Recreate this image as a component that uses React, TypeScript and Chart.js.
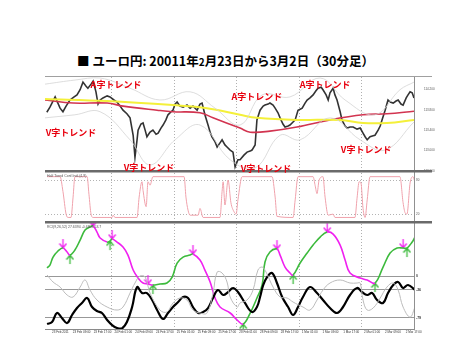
import { useEffect, useRef } from "react";
import { Chart, registerables } from "chart.js";

Chart.register(...registerables);

// ---- text ----
const TITLE_A = "■ ユーロ円: 20011年";
const TITLE_SMALL = "2";
const TITLE_B = "月23日から3月2日（30分足）";
const HT_LABEL = "Half Trend Conf.Indi.(4,9)";
const RCI_LABEL = "RCI(9,26,52) 27.6394 -0.6805 53.7";

// ---- x axis (hours since first bar) ----
const timeTickLabels = [
  "23 Feb 2011", "23 Feb 09:00", "23 Feb 17:00",
  "24 Feb 01:00", "24 Feb 09:00", "24 Feb 17:00",
  "25 Feb 01:00", "25 Feb 09:00", "25 Feb 17:00",
  "28 Feb 01:00", "28 Feb 09:00", "28 Feb 17:00",
  "1 Mar 01:00", "1 Mar 09:00", "1 Mar 17:00",
  "2 Mar 01:00", "2 Mar 09:00", "2 Mar 17:00",
];
const timeTickHours = [0, 8, 16, 24, 32, 40, 48, 56, 64, 72, 80, 88, 96, 104, 112, 120, 128, 136];
const dayBreakHours = [23, 47, 71, 95, 119];

// ---- main price pane ----
const priceTicks = [112.6, 112.8, 113.0, 113.2, 113.4, 113.6, 113.8, 114.0, 114.2, 114.4];
const priceHours = [-2, -0.8, 1.2, 3.1, 4.2, 5.4, 6.9, 8.5, 9.6, 10.8, 11.9, 13.1, 13.8, 15.0, 15.8, 16.9, 17.7, 18.5, 19.6, 21.2, 22.3, 23.8, 25.0, 26.2, 27.3, 28.8, 30.0, 31.2, 31.9, 32.7, 33.1, 34.2, 35.0, 35.8, 36.5, 37.7, 38.8, 40.0, 40.8, 41.9, 42.7, 43.8, 44.6, 45.8, 46.5, 47.3, 48.1, 49.2, 50.4, 51.9, 53.1, 54.2, 55.8, 56.9, 57.7, 58.8, 60.0, 60.8, 61.5, 62.7, 63.5, 64.6, 65.4, 66.5, 67.3, 68.5, 69.6, 70.4, 71.5, 72.3, 73.8, 75.0, 76.2, 76.9, 78.1, 78.8, 80.0, 81.2, 81.9, 83.1, 83.8, 85.0, 85.8, 86.9, 87.7, 88.8, 89.6, 90.8, 91.5, 92.7, 93.5, 94.6, 95.4, 96.2, 97.3, 98.1, 99.2, 100.4, 101.5, 102.3, 103.5, 104.2, 105.4, 106.2, 106.9, 108.1, 108.8, 109.6, 110.8, 111.5, 112.7, 113.5, 114.6, 115.8, 117.3, 118.5, 119.6, 120.4, 121.2, 122.3, 123.5, 124.2, 125.4, 126.2, 126.9, 128.1, 129.2, 130.0, 131.2, 132.3, 133.1, 134.2, 135.0, 136.2, 136.9, 137.7, 138.5, 139.2];
const priceClose = [113.75, 113.85, 114.05, 113.83, 113.76, 113.87, 113.99, 114.05, 114.09, 114.19, 114.34, 114.26, 114.22, 114.30, 114.36, 114.15, 113.91, 113.99, 114.03, 114.07, 114.05, 113.99, 113.95, 113.87, 113.79, 113.72, 113.64, 113.30, 112.87, 113.21, 113.40, 113.52, 113.54, 113.40, 113.27, 113.36, 113.40, 113.32, 113.34, 113.44, 113.50, 113.60, 113.70, 113.76, 113.79, 113.91, 113.95, 113.87, 113.85, 113.89, 113.83, 113.87, 113.79, 113.91, 113.93, 113.70, 113.50, 113.36, 113.27, 113.17, 113.07, 113.15, 113.21, 113.11, 113.07, 113.01, 112.97, 112.68, 112.82, 112.82, 112.91, 112.97, 112.99, 113.01, 113.11, 113.60, 113.79, 113.87, 113.89, 113.91, 113.93, 113.89, 113.83, 113.74, 113.64, 113.52, 113.46, 113.48, 113.50, 113.56, 113.60, 113.79, 113.81, 113.83, 113.93, 113.99, 114.03, 114.09, 114.17, 114.22, 114.24, 114.19, 114.09, 113.99, 114.13, 114.22, 114.09, 113.99, 113.76, 113.60, 113.48, 113.44, 113.46, 113.46, 113.42, 113.44, 113.34, 113.27, 113.21, 113.27, 113.29, 113.30, 113.40, 113.48, 113.60, 113.79, 113.99, 113.95, 113.93, 113.97, 113.99, 113.91, 113.89, 114.03, 114.09, 114.15, 114.13, 114.03];

const maYellowHours = [-2.7, 21.2, 46.5, 59.6, 72.3, 78.8, 94.2, 110.8, 119.6, 128.8, 139.2];
const maYellow = [114.01, 113.97, 113.89, 113.83, 113.70, 113.64, 113.60, 113.60, 113.54, 113.54, 113.60];
const maRedHours = [-2.7, 8.1, 21.2, 27.3, 40.4, 46.5, 56.9, 61.9, 72.3, 76.2, 83.8, 94.2, 106.9, 119.6, 128.8, 139.2];
const maRed = [113.99, 113.93, 113.93, 113.87, 113.79, 113.76, 113.74, 113.64, 113.44, 113.36, 113.38, 113.46, 113.60, 113.70, 113.72, 113.77];
const bandUpperHours = [-2.7, 8.8, 18.5, 30.0, 41.5, 53.1, 62.7, 72.3, 80.8, 91.5, 103.1, 112.7, 124.2, 133.8, 139.2];
const bandUpper = [114.30, 114.38, 114.42, 114.22, 113.99, 114.15, 113.83, 113.50, 114.09, 114.05, 114.42, 113.99, 113.70, 114.19, 114.34];
const bandLowerHours = [-2.7, 8.8, 18.5, 30.0, 37.7, 47.3, 56.9, 68.5, 78.1, 87.7, 95.4, 106.9, 118.5, 128.1, 139.2];
const bandLower = [113.64, 113.70, 113.76, 113.21, 112.72, 113.21, 113.50, 112.82, 112.66, 113.30, 113.21, 113.64, 113.21, 113.01, 113.56];

const trendLabels = ["A字トレンド", "V字トレンド", "V字トレンド", "A字トレンド", "A字トレンド", "V字トレンド", "V字トレンド"];
const trendLabelHours = [24.6, 7.3, 37.3, 78.8, 105.0, 82.3, 120.8];
const trendLabelPrices = [114.30, 113.36, 112.66, 114.05, 114.30, 112.64, 113.01];

// ---- half trend pane ----
const htLevels = [20, 80];
const htHours = [-1.9, 3.1, 4.2, 5.4, 6.2, 7.3, 8.1, 8.8, 13.5, 14.2, 15.0, 15.8, 23.1, 23.5, 24.2, 32.7, 33.5, 34.6, 35.0, 36.2, 36.9, 37.7, 38.8, 50.8, 51.5, 52.3, 53.1, 56.2, 56.9, 58.1, 64.6, 65.4, 65.8, 66.5, 67.7, 68.8, 70.0, 70.8, 71.5, 73.1, 84.6, 85.8, 86.5, 92.7, 93.5, 94.6, 100.4, 101.2, 101.9, 102.7, 104.2, 105.0, 106.2, 108.1, 108.8, 116.5, 117.3, 118.1, 118.8, 119.6, 120.4, 121.2, 122.3, 133.8, 135.0, 135.8, 136.5, 137.7, 138.8, 139.6];
const htValues = [86, 86, 60, 20, 14, 14, 50, 86, 86, 55, 20, 14, 14, 18, 14, 14, 50, 77, 62, 33, 77, 71, 86, 86, 50, 27, 18, 18, 30, 14, 14, 60, 77, 36, 80, 40, 24, 20, 45, 86, 86, 50, 16, 14, 45, 86, 86, 70, 56, 80, 86, 50, 18, 20, 14, 14, 48, 77, 75, 30, 14, 45, 86, 86, 40, 22, 20, 75, 86, 75];

// ---- RCI / oscillator pane ----
const rciLevels = [-79, -26, 0];
const rciHours = [-1.9, -0.8, 0.4, 2.3, 4.2, 5.8, 6.9, 8.8, 10.8, 12.7, 14.6, 15.8, 17.3, 18.5, 21.2, 22.3, 23.1, 25.0, 27.3, 29.2, 31.2, 33.1, 35.0, 36.9, 38.8, 41.5, 44.2, 46.2, 48.1, 50.4, 53.1, 54.2, 56.9, 58.8, 60.8, 62.7, 64.6, 68.5, 71.2, 73.5, 76.2, 78.8, 80.8, 81.9, 83.8, 86.5, 87.7, 89.6, 91.5, 92.7, 95.4, 98.1, 100.4, 103.1, 105.8, 108.1, 110.8, 112.7, 114.6, 118.5, 121.2, 124.2, 127.3, 130.0, 132.7, 135.0, 136.5, 138.5, 139.6];
const rciValues = [15.1, 20.8, 35.8, 47.2, 52.8, 45.3, 39.6, 49.1, 67.9, 86.8, 92.5, 94.3, 83, 71.7, 64.2, 66, 69.8, 64.2, 54.7, 39.6, 11.3, -3.8, -13.2, -15.1, -17, -15.1, -13.2, -1.9, 24.5, 35.8, 39.6, 41.5, 30.2, 11.3, -11.3, -41.5, -58.5, -69.8, -83, -90.6, -69.8, -41.5, -17, 26.4, 45.3, 50.9, 39.6, 17, 5.7, 1.9, 24.5, 43.4, 58.5, 73.6, 83, 79.2, 58.5, 30.2, 5.7, -3.8, -7.5, -13.2, 17, 43.4, 52.8, 52.8, 52.8, 64.2, 73.6];
const sellArrowHours = [4.2, 15.8, 23.1, 36.9, 54.2, 86.5, 105.8, 135.0];
const sellArrowValues = [52.8, 94.3, 69.8, -15.1, 41.5, 50.9, 83, 52.8];
const buyArrowHours = [6.9, 22.3, 38.8, 73.5, 92.7, 124.2, 136.5];
const buyArrowValues = [39.6, 66, -17, -90.6, 1.9, -13.2, 52.8];

const oscHours = [-1.9, 0, 1.9, 3.8, 5.8, 7.7, 9.6, 11.5, 13.5, 15.4, 17.3, 19.2, 21.2, 23.1, 25.0, 26.9, 28.8, 30.8, 32.7, 34.6, 36.5, 38.5, 40.4, 42.7, 44.6, 46.5, 48.5, 50.4, 52.3, 54.2, 56.2, 58.1, 60.0, 61.9, 63.8, 65.8, 67.7, 69.6, 71.5, 74.2, 76.9, 78.8, 80.0, 81.2, 82.7, 84.6, 86.5, 88.5, 90.8, 92.7, 94.6, 96.5, 99.2, 101.9, 104.2, 106.9, 109.6, 111.9, 114.6, 117.3, 119.2, 121.2, 123.1, 125.0, 127.3, 129.2, 131.2, 133.1, 135.0, 136.9, 139.6];
const oscValues = [-90.6, -86.8, -69.8, -79.2, -88.7, -73.6, -60.4, -50.9, -41.5, -58.5, -66, -69.8, -83, -92.5, -98.1, -99, -86.8, -58.5, -20.8, -32.1, -32.1, -45.3, -64.2, -81.1, -69.8, -58.5, -49.1, -39.6, -41.5, -58.5, -69.8, -67.9, -60.4, -41.5, -26.4, -35.8, -30.2, -22.6, -30.2, -50.9, -67.9, -58.5, -39.6, -17, -1.9, 5.7, -13.2, -39.6, -58.5, -73.6, -58.5, -39.6, -20.8, -32.1, -45.3, -60.4, -69.8, -58.5, -35.8, -22.6, -30.2, -35.8, -32.1, -45.3, -50.9, -32.1, -17, -11.3, -22.6, -17, -26.4];
const sigHours = [-1.9, 0.4, 3.1, 5.8, 8.1, 10.8, 12.7, 14.6, 17.3, 21.2, 25.0, 27.3, 30.0, 31.9, 33.8, 35.8, 37.7, 41.5, 44.2, 46.5, 49.2, 51.9, 54.2, 56.9, 59.6, 61.9, 63.5, 65.4, 67.3, 68.5, 71.2, 72.3, 75.0, 77.3, 79.2, 80.8, 82.3, 85.0, 87.7, 90.4, 92.7, 96.5, 99.2, 101.9, 104.2, 106.9, 110.8, 114.6, 117.3, 118.5, 119.6, 121.2, 123.5, 126.2, 128.8, 131.2, 133.1, 135.0, 137.7, 139.6];
const sigValues = [1.9, -11.3, -20.8, -35.8, -39.6, -20.8, -7.5, -26.4, -45.3, -58.5, -64.2, -58.5, -32.1, -13.2, 0, -1.9, -32.1, -64.2, -67.9, -50.9, -41.5, -45.3, -64.2, -69.8, -69.8, -32.1, 7.5, 5.7, -11.3, -39.6, -58.5, -50.9, -45.3, -26.4, 11.3, 17, 7.5, -20.8, -39.6, -41.5, -49.1, -58.5, -64.2, -45.3, -26.4, -13.2, -7.5, -13.2, -13.2, -13.2, -45.3, -64.2, -60.4, -41.5, -20.8, -13.2, -26.4, -58.5, -77.4, -58.5];

const zip = (xs: number[], ys: number[]) => xs.map((x, i) => ({ x, y: ys[i] }));

function makeArrow(color: string, down: boolean) {
  const c = document.createElement("canvas");
  c.width = 9;
  c.height = 20;
  const g = c.getContext("2d")!;
  g.strokeStyle = color;
  g.lineWidth = 1.3;
  g.beginPath();
  if (down) {
    g.moveTo(4.5, 1); g.lineTo(4.5, 10);
    g.moveTo(1, 5.5); g.lineTo(4.5, 10); g.lineTo(8, 5.5);
  } else {
    g.moveTo(4.5, 19); g.lineTo(4.5, 10);
    g.moveTo(1, 14.5); g.lineTo(4.5, 10); g.lineTo(8, 14.5);
  }
  g.stroke();
  return c;
}

const GREEN = "#3cba3c";
const MAGENTA = "#f020f0";
const X_MIN = -2.7;
const X_MAX = 139.2;
const TINY = { size: 3, family: "Liberation Sans" };

export default function App() {
  const ref = useRef<HTMLCanvasElement>(null);

  useEffect(() => {
    document.body.style.margin = "0";
    const canvas = ref.current!;
    const sellImg = makeArrow(MAGENTA, true);
    const buyImg = makeArrow(GREEN, false);

    const framePlugin = {
      id: "paneFrame",
      afterDatasetsDraw(chart: any) {
        const { ctx, chartArea, scales } = chart;
        const left = chartArea.left;
        const right = chartArea.right + 18;
        ctx.save();
        ctx.fillStyle = "#a0a0a0";
        ctx.fillRect(left, chartArea.top - 1, right - left, 1);
        ctx.fillStyle = "#6a6a6a";
        ctx.fillRect(left, scales.yHT.top - 1, right - left, 2.5);
        ctx.fillRect(left, scales.yRCI.top - 1, right - left, 2.5);
        ctx.font = '3.5px "Liberation Sans"';
        ctx.fillStyle = "#555";
        ctx.textBaseline = "top";
        ctx.textAlign = "left";
        ctx.fillText(HT_LABEL, left + 2, scales.yHT.top + 3);
        ctx.fillText(RCI_LABEL, left + 2, scales.yRCI.top + 3);
        ctx.font = 'bold 9px "Noto Sans CJK JP"';
        ctx.fillStyle = "#e8000e";
        ctx.textAlign = "center";
        ctx.textBaseline = "middle";
        trendLabels.forEach((txt, i) => {
          const x = scales.x.getPixelForValue(trendLabelHours[i]);
          const y = scales.yMain.getPixelForValue(trendLabelPrices[i]);
          ctx.fillText(txt, x, y);
        });
        ctx.restore();
      },
    };

    const thinLine = (data: any, color: string, width: number, axis: string, extra: any = {}) => ({
      data,
      yAxisID: axis,
      borderColor: color,
      borderWidth: width,
      pointRadius: 0,
      fill: false,
      ...extra,
    });

    const chart = new Chart(canvas, {
      type: "line",
      data: {
        datasets: [
          thinLine(zip(bandUpperHours, bandUpper), "#d4d4d4", 0.8, "yMain", { tension: 0.4 }),
          thinLine(zip(bandLowerHours, bandLower), "#d4d4d4", 0.8, "yMain", { tension: 0.4 }),
          thinLine(zip(maYellowHours, maYellow), "#f4f03a", 2, "yMain", { tension: 0.4 }),
          thinLine(zip(maRedHours, maRed), "#d23450", 1.6, "yMain", { tension: 0.4 }),
          thinLine(zip(priceHours, priceClose), "#333333", 1.6, "yMain", { tension: 0 }),
          thinLine(zip(htHours, htValues), "#f0a2ac", 1, "yHT", { cubicInterpolationMode: "monotone" }),
          thinLine(zip(sigHours, sigValues), "#bcbcbc", 1, "yRCI", { tension: 0.4 }),
          thinLine(zip(oscHours, oscValues), "#000000", 2.2, "yRCI", { tension: 0.4 }),
          thinLine(zip(rciHours, rciValues), GREEN, 1.6, "yRCI", {
            tension: 0.4,
            segment: {
              borderColor: (c: any) => (c.p1.parsed.y >= c.p0.parsed.y ? GREEN : MAGENTA),
            },
          }),
          {
            data: zip(sellArrowHours, sellArrowValues),
            yAxisID: "yRCI",
            showLine: false,
            pointStyle: sellImg,
            pointRadius: 4,
          },
          {
            data: zip(buyArrowHours, buyArrowValues),
            yAxisID: "yRCI",
            showLine: false,
            pointStyle: buyImg,
            pointRadius: 4,
          },
        ],
      },
      options: {
        animation: false,
        responsive: false,
        devicePixelRatio: 1,
        events: [],
        layout: { padding: { left: 45, right: 20, top: 77, bottom: 15 } },
        plugins: { legend: { display: false }, tooltip: { enabled: false }, title: { display: false } },
        scales: {
          x: {
            type: "linear",
            position: "bottom",
            min: X_MIN,
            max: X_MAX,
            afterBuildTicks: (s: any) => {
              s.ticks = timeTickHours.map((v) => ({ value: v }));
            },
            afterFit: (s: any) => {
              s.height = 8;
            },
            ticks: {
              autoSkip: false,
              maxRotation: 0,
              align: "start",
              padding: 1.5,
              color: "#333",
              font: TINY,
              callback: (_v: any, i: number) => timeTickLabels[i],
            },
            grid: { display: false, drawTicks: false, tickLength: 0 },
            border: { display: true, color: "#8a8a8a", width: 1 },
          },
          xDay: {
            type: "linear",
            position: "top",
            min: X_MIN,
            max: X_MAX,
            afterBuildTicks: (s: any) => {
              s.ticks = dayBreakHours.map((v) => ({ value: v }));
            },
            ticks: { display: false },
            grid: { display: true, drawTicks: false, color: "#9c9c9c", lineWidth: 0.8 },
            border: { display: false, dash: [1, 2] },
          },
          yMain: {
            type: "linear",
            position: "right",
            stack: "panes",
            stackWeight: 94,
            min: 112.6,
            max: 114.44,
            afterBuildTicks: (s: any) => {
              s.ticks = priceTicks.map((v) => ({ value: v }));
            },
            afterFit: (s: any) => {
              s.width = 29;
            },
            ticks: {
              padding: 2,
              color: "#555",
              font: TINY,
              callback: (v: any) => Number(v).toFixed(3),
            },
            grid: { display: false },
            border: { display: true, color: "#909090", width: 1 },
          },
          yHT: {
            type: "linear",
            position: "right",
            stack: "panes",
            stackWeight: 51,
            min: 6,
            max: 96,
            afterBuildTicks: (s: any) => {
              s.ticks = htLevels.map((v) => ({ value: v }));
            },
            afterFit: (s: any) => {
              s.width = 29;
            },
            ticks: {
              padding: 2,
              color: "#555",
              font: TINY,
            },
            grid: { display: true, drawTicks: false, color: "#a0a0a0", lineWidth: 0.8 },
            border: { display: true, color: "#909090", width: 1, dash: [1, 2] },
          },
          yRCI: {
            type: "linear",
            position: "right",
            stack: "panes",
            stackWeight: 107,
            min: -100,
            max: 102,
            afterBuildTicks: (s: any) => {
              s.ticks = rciLevels.map((v) => ({ value: v }));
            },
            afterFit: (s: any) => {
              s.width = 29;
            },
            ticks: {
              padding: 2,
              color: "#333",
              font: { size: 3.5, family: "Liberation Sans", weight: "bold" },
            },
            grid: { display: true, drawTicks: false, color: "#8c8c8c", lineWidth: 0.9 },
            border: { display: true, color: "#909090", width: 1 },
          },
        },
      } as any,
      plugins: [framePlugin],
    });

    return () => chart.destroy();
  }, []);

  return (
    <div style={{ position: "relative", width: 463, height: 352, background: "#fff" }}>
      <div
        style={{
          position: "absolute",
          left: 0,
          top: 52,
          width: 451,
          textAlign: "center",
          fontFamily: '"Noto Sans CJK JP", sans-serif',
          fontWeight: "bold",
          fontSize: 12.5,
          lineHeight: "17px",
          color: "#000",
          whiteSpace: "nowrap",
        }}
      >
        {TITLE_A}
        <span style={{ fontSize: 10 }}>{TITLE_SMALL}</span>
        {TITLE_B}
      </div>
      <canvas ref={ref} width={463} height={352} style={{ position: "absolute", left: 0, top: 0 }} />
    </div>
  );
}
